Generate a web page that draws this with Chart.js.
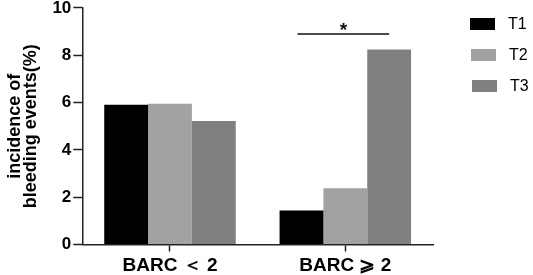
<!DOCTYPE html>
<html>
<head>
<meta charset="utf-8">
<script src="https://cdn.jsdelivr.net/npm/chart.js@4"></script>
<style>
  body { margin: 0; background: #fff; }
  #wrap { width: 533px; height: 275px; }
</style>
</head>
<body>
<div id="wrap"><canvas id="barChart"></canvas></div>
<script>
const categories = ["BARC ＜ 2", "BARC ⩾ 2"];
const seriesNames = ["T1", "T2", "T3"];
const seriesColors = ["#000000", "#a2a2a2", "#808080"];
const t1Values = [5.91, 1.44];
const t2Values = [5.95, 2.38];
const t3Values = [5.22, 8.24];
const yTicks = [0, 2, 4, 6, 8, 10];

// significance bracket over the BARC >= 2 group
const sigCategory = 1;
const sigLevel = 8.9;
const sigLabel = "*";

const FONT = "'Liberation Sans', Arial, sans-serif";

const sigPlugin = {
    id: "sigBracket",
    afterDatasetsDraw(chart) {
        const ctx = chart.ctx;
        const first = chart.getDatasetMeta(0).data[sigCategory];
        const last = chart.getDatasetMeta(2).data[sigCategory];
        const y = chart.scales.y.getPixelForValue(sigLevel);
        const x0 = first.x - 4;
        ctx.save();
        ctx.strokeStyle = "#111";
        ctx.lineWidth = 1.5;
        ctx.beginPath();
        ctx.moveTo(x0, y);
        ctx.lineTo(last.x, y);
        ctx.stroke();
        ctx.fillStyle = "#111";
        ctx.font = "bold 19px " + FONT;
        ctx.textAlign = "center";
        ctx.textBaseline = "alphabetic";
        ctx.fillText(sigLabel, (x0 + last.x) / 2, y + 2);
        ctx.restore();
    }
};

// legend sits to the right of the plot, like the original
const legendPlugin = {
    id: "sideLegend",
    afterDraw(chart) {
        const ctx = chart.ctx;
        const left = chart.chartArea.right + 37;
        ctx.save();
        ctx.font = "16px " + FONT;
        ctx.textBaseline = "middle";
        ctx.textAlign = "left";
        chart.data.datasets.forEach((ds, i) => {
            const top = 18 + i * 31;
            ctx.fillStyle = ds.backgroundColor;
            ctx.fillRect(left + i, top, 25, 12);
            ctx.fillStyle = "#000";
            ctx.fillText(ds.label, left + 38 + i, top + 6.5);
        });
        ctx.restore();
    }
};

new Chart(document.getElementById("barChart"), {
    type: "bar",
    data: {
        labels: categories,
        datasets: seriesNames.map((name, i) => ({
            label: name,
            data: [t1Values, t2Values, t3Values][i],
            backgroundColor: seriesColors[i]
        }))
    },
    options: {
        responsive: true,
        maintainAspectRatio: false,
        animation: false,
        categoryPercentage: 0.75,
        barPercentage: 1.0,
        layout: { padding: { left: 7, top: 0, right: 100, bottom: -5.5 } },
        plugins: {
            tooltip: { enabled: false },
            legend: { display: false }
        },
        scales: {
            x: {
                grid: {
                    offset: false,
                    drawOnChartArea: false,
                    tickLength: 7,
                    tickWidth: 1.5,
                    color: "#222"
                },
                border: { color: "#222", width: 1.5 },
                ticks: {
                    color: "#000",
                    padding: 5,
                    font: { family: FONT, size: 19, weight: "bold", lineHeight: 1.0 }
                }
            },
            y: {
                min: 0,
                max: 10,
                afterBuildTicks(axis) {
                    axis.ticks = yTicks.map(v => ({ value: v }));
                },
                grid: {
                    drawOnChartArea: false,
                    tickLength: 9,
                    tickWidth: 1.5,
                    color: "#222"
                },
                border: { color: "#222", width: 1.5 },
                ticks: {
                    color: "#000",
                    padding: 2,
                    font: { family: FONT, size: 17, weight: "bold", lineHeight: 0.7 }
                },
                title: {
                    display: true,
                    text: ["incidence of", "bleeding events(%)"],
                    color: "#000",
                    padding: { top: 0, bottom: 11 },
                    font: { family: FONT, size: 18, weight: "bold", lineHeight: 0.9 }
                }
            }
        }
    },
    plugins: [sigPlugin, legendPlugin]
});
</script>
</body>
</html>
